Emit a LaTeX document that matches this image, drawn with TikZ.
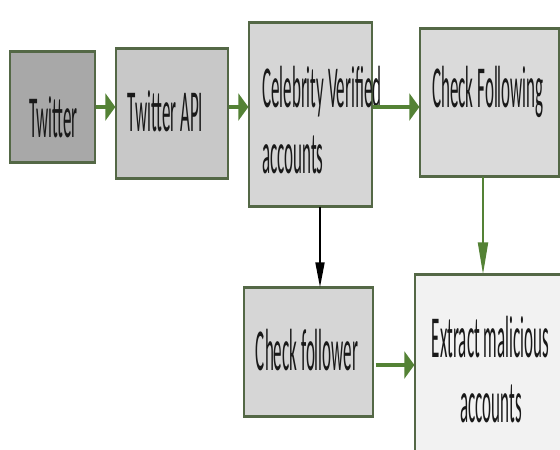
\documentclass[tikz,border=0pt]{standalone}
\usepackage{fontspec}
\setmainfont{Carlito}
\usetikzlibrary{arrows.meta}
\definecolor{bordc}{RGB}{84,104,70}
\definecolor{arrg}{RGB}{84,130,53}
\definecolor{txtc}{RGB}{25,25,25}
\definecolor{fa}{RGB}{168,168,168}
\definecolor{fb}{RGB}{200,200,200}
\definecolor{fc}{RGB}{214,214,214}
\definecolor{fd}{RGB}{218,218,218}
\definecolor{fe}{RGB}{242,242,242}
\newcommand\stretchtxt[1]{\scalebox{1}[3.5]{\fontsize{17}{18.9}\selectfont\begin{tabular}[t]{@{}l@{}}#1\end{tabular}}}
\begin{document}
\begin{tikzpicture}[x=1pt,y=-1pt,
  box/.style={draw=bordc,line width=1.3pt,inner sep=0pt,rectangle},
  hedge/.style={draw=bordc,line width=3pt},
  lbl/.style={anchor=base,inner sep=0pt,text=txtc},
  harr/.style={draw=arrg,line width=4pt,-{Triangle[length=10pt,width=27pt]}},
  varr/.style={draw=arrg,line width=2pt,-{Triangle[length=32pt,width=10pt]}},
  karr/.style={draw=black,line width=1.8pt,-{Triangle[length=25pt,width=9pt]}}]
\useasboundingbox (0,0) rectangle (560,450);
\clip (0,0) rectangle (560,450);
\fill[white] (0,0) rectangle (560,450);
% boxes
\node[box,fill=fa,minimum width=85pt,minimum height=110pt] (tw) at (52.5,107) {};
\node[box,fill=fb,minimum width=112pt,minimum height=129pt] (api) at (172,113.5) {};
\node[box,fill=fc,minimum width=123pt,minimum height=183pt] (celeb) at (310.5,114.5) {};
\node[box,fill=fd,minimum width=139pt,minimum height=147pt] (cfg) at (489.5,102.5) {};
\node[box,fill=fc,minimum width=129pt,minimum height=128pt] (cfr) at (308.5,352) {};
\node[box,fill=fe,minimum width=165pt,minimum height=205pt] (ext) at (497.5,377.5) {};
\foreach \n in {tw,api,celeb,cfg,cfr,ext}
  \draw[hedge] (\n.north west) -- (\n.north east) (\n.south west) -- (\n.south east);
% labels
\node[lbl] (twl) at (53.5,137) {\stretchtxt{Twitter}};
\node[lbl] (apil) at (165.5,131) {\stretchtxt{Twitter API}};
\node[lbl,anchor=base west] (celebl) at (262,107) {\stretchtxt{Celebrity Verified\\accounts}};
\node[lbl] (cfgl) at (488,107) {\stretchtxt{Check Following}};
\node[lbl] (cfrl) at (307,370) {\stretchtxt{Check follower}};
\node[lbl] (extl1) at (490.5,357) {\stretchtxt{Extract malicious}};
\node[lbl] (extl2) at (491,422) {\stretchtxt{accounts}};
% connectors
\draw[harr] (tw.east) -- (tw.east -| api.west);
\draw[harr] (api.east |- tw.east) -- (celeb.west |- tw.east);
\draw[harr] (celeb.east |- tw.east) -- (cfg.west |- tw.east);
\draw[varr] ([xshift=-6.5pt]cfg.south) -- ([xshift=-6.5pt]cfg.south |- ext.north);
\draw[karr] ([xshift=9.5pt]celeb.south) -- ([xshift=9.5pt]celeb.south |- cfr.north);
\draw[harr] ([xshift=2pt,yshift=-13pt]cfr.east) -- ([yshift=-13pt]cfr.east -| ext.west);
\end{tikzpicture}
\end{document}
